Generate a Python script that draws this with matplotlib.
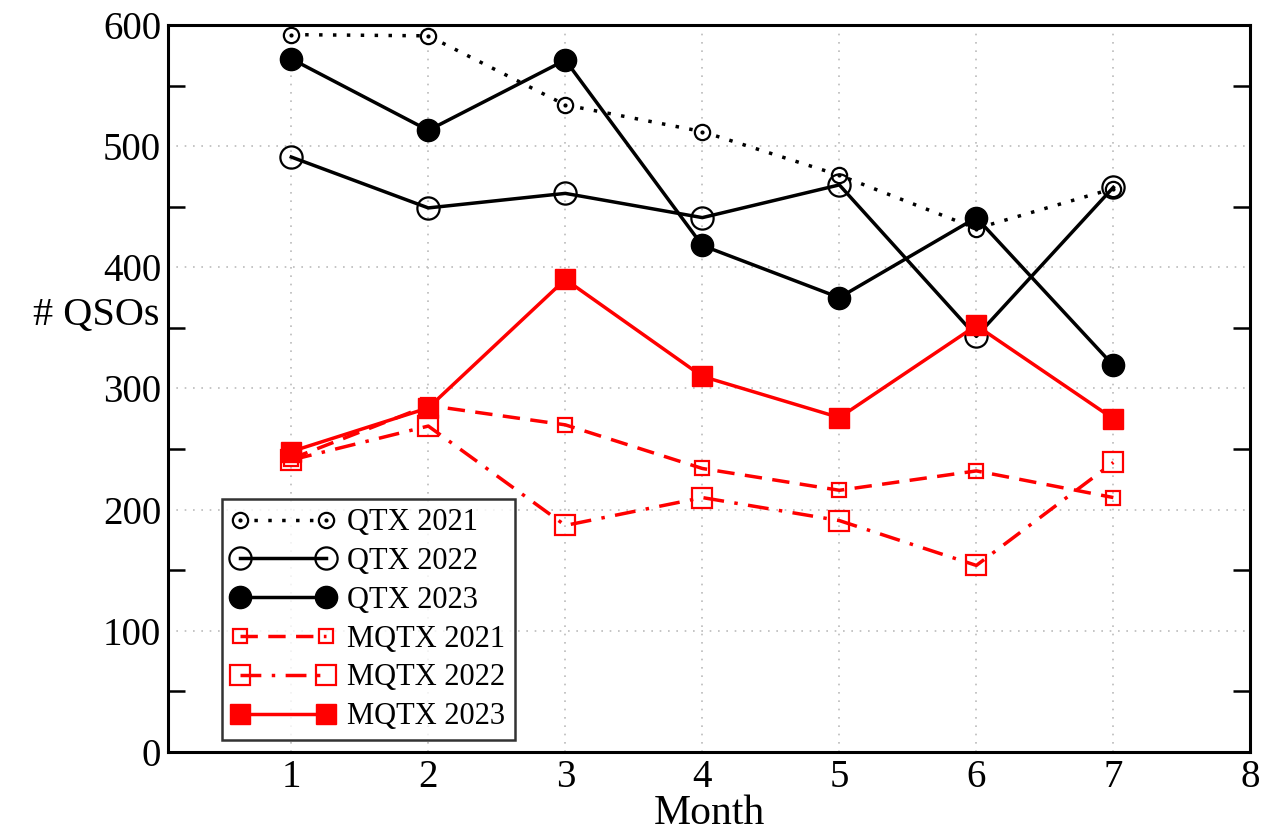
import matplotlib
matplotlib.use("Agg")
import matplotlib.pyplot as plt
from matplotlib.ticker import MultipleLocator

months = [1, 2, 3, 4, 5, 6, 7]

qtx_2021 = [592, 591, 534, 512, 476, 432, 465]
qtx_2022 = [491, 449, 461, 441, 468, 343, 466]
qtx_2023 = [572, 513, 571, 418, 375, 441, 319]
mqtx_2021 = [242, 286, 270, 234, 216, 232, 210]
mqtx_2022 = [241, 269, 187, 210, 191, 154, 239]
mqtx_2023 = [248, 284, 390, 310, 276, 352, 275]

plt.rcParams["font.family"] = ["Liberation Serif", "DejaVu Serif"]

fig = plt.figure(figsize=(12.63, 8.31), dpi=100)
ax = fig.add_axes([0.133, 0.095, 0.857, 0.875])

red = "#ff0000"
h1, = ax.plot(months, qtx_2021, color="black", linestyle=(0, (1, 3)), linewidth=2.5,
              marker="o", markersize=11, markerfacecolor="white", markeredgewidth=1.6)
h1d, = ax.plot(months, qtx_2021, linestyle="none", marker=".", markersize=4, color="black")
h2, = ax.plot(months, qtx_2022, color="black", linestyle="-", linewidth=2.5,
              marker="o", markersize=16, markerfacecolor="none", markeredgewidth=1.6)
h3, = ax.plot(months, qtx_2023, color="black", linestyle="-", linewidth=2.5,
              marker="o", markersize=16)
h4, = ax.plot(months, mqtx_2021, color=red, linestyle=(0, (5, 3)), linewidth=2.5,
              marker="s", markersize=10, markerfacecolor="none", markeredgewidth=1.6)
h5, = ax.plot(months, mqtx_2022, color=red, linestyle=(0, (6, 3, 1, 3)), linewidth=2.5,
              marker="s", markersize=14, markerfacecolor="none", markeredgewidth=1.6)
h6, = ax.plot(months, mqtx_2023, color=red, linestyle="-", linewidth=2.5,
              marker="s", markersize=14)

ax.set_xlim(0.1, 8)
ax.set_ylim(0, 600)
ax.set_xticks(range(1, 9))
ax.yaxis.set_major_locator(MultipleLocator(100))
ax.yaxis.set_minor_locator(MultipleLocator(50))
ax.tick_params(axis="both", which="major", length=0, labelsize=28, pad=5)
ax.tick_params(axis="y", which="minor", direction="in", length=12, width=1.8,
               left=True, right=True)
ax.grid(True, which="major", color="#bbbbbb", linestyle=(0, (1, 4)), linewidth=1.2)
for s in ax.spines.values():
    s.set_linewidth(2.2)

ax.set_xlabel("Month", fontsize=30)
ax.xaxis.set_label_coords(0.5, -0.059)
ax.set_ylabel("# QSOs", fontsize=29, rotation=0, labelpad=0)
ax.yaxis.set_label_coords(-0.066, 0.575)

handles = [(h1, h1d), h2, h3, h4, h5, h6]
labels = ["QTX 2021", "QTX 2022", "QTX 2023", "MQTX 2021", "MQTX 2022", "MQTX 2023"]
leg = ax.legend(handles, labels, loc="lower left", bbox_to_anchor=(0.05, 0.016),
                fontsize=22, handlelength=3.4, numpoints=2, frameon=True, fancybox=False,
                borderpad=0.3, labelspacing=0.32, handletextpad=0.4, borderaxespad=0)
leg.get_frame().set_edgecolor("black")
leg.get_frame().set_linewidth(1.8)

fig.savefig("out.png", dpi=100)
